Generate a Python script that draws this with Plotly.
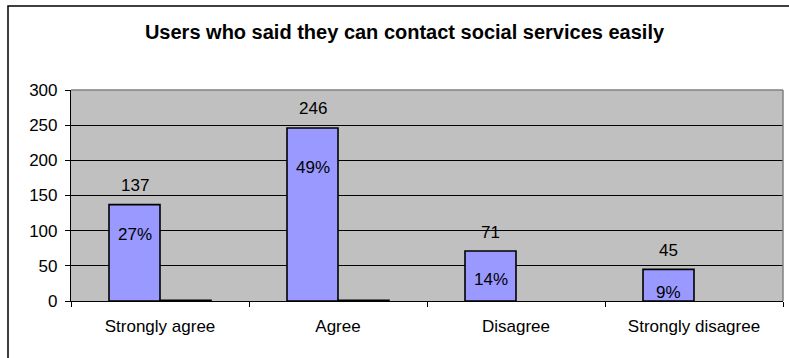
import plotly.graph_objects as go

# Survey responses
categories = ["Strongly agree", "Agree", "Disagree", "Strongly disagree"]
counts = [137, 246, 71, 45]
percent_labels = ["27%", "49%", "14%", "9%"]
other_counts = [1, 1, None, None]

y_ticks = [0, 50, 100, 150, 200, 250, 300]

FONT = "Liberation Sans, Arial, sans-serif"
BAR_FILL = "#9999FF"
PLOT_BG = "#C0C0C0"
LABEL_SIZE = 17

# vertical offsets (px) of the percentage labels below each bar top
pct_shift = [-30, -40, -28, -23]

fig = go.Figure()
fig.add_trace(go.Bar(
    x=categories, y=counts, marker=dict(color=BAR_FILL, line=dict(color="black", width=1.6)),
    hoverinfo="x+y", showlegend=False,
))
fig.add_trace(go.Bar(
    x=categories, y=other_counts, marker=dict(color=BAR_FILL, line=dict(color="black", width=1.6)),
    hoverinfo="skip", showlegend=False,
))

annotations = []
for i, (cat, val, pct) in enumerate(zip(categories, counts, percent_labels)):
    annotations.append(dict(x=cat, y=val, text=str(val), showarrow=False, xshift=-25.5,
                            yshift=19, yanchor="middle",
                            font=dict(family=FONT, size=LABEL_SIZE, color="black")))
    annotations.append(dict(x=cat, y=val, text=pct, showarrow=False, xshift=-25.5,
                            yshift=pct_shift[i], yanchor="middle",
                            font=dict(family=FONT, size=LABEL_SIZE, color="black")))

plot_l, plot_r, plot_t, plot_b = 71, 783, 90, 301
W, H = 789, 358
pw, ph = plot_r - plot_l, plot_b - plot_t

shapes = [
    # chart area frame
    dict(type="rect", xref="paper", yref="paper",
         x0=(8 - plot_l) / pw, x1=(W + 20 - plot_l) / pw,
         y0=(plot_b - (H + 20)) / ph, y1=(plot_b - 6) / ph,
         line=dict(color="black", width=1.5), fillcolor="rgba(0,0,0,0)", layer="below"),
    # plot area frame, top and right
    dict(type="line", xref="paper", yref="paper", x0=0, x1=1, y0=1, y1=1,
         line=dict(color="#808080", width=1.5)),
    dict(type="line", xref="paper", yref="paper", x0=1, x1=1, y0=0, y1=1,
         line=dict(color="#808080", width=1.5)),
]

fig.update_layout(
    width=W, height=H,
    margin=dict(l=plot_l, r=W - plot_r, t=plot_t, b=H - plot_b),
    paper_bgcolor="white", plot_bgcolor=PLOT_BG,
    barmode="group", bargap=0.427, bargroupgap=0,
    title=dict(text="<b>Users who said they can contact social services easily</b>",
               x=404.5 / W, xanchor="center", y=1 - 32 / H, yanchor="middle",
               font=dict(family=FONT, size=20, color="black")),
    font=dict(family=FONT, size=LABEL_SIZE, color="black"),
    annotations=annotations,
    shapes=shapes,
)
fig.update_xaxes(
    showline=True, linecolor="black", linewidth=1.2,
    ticks="outside", tickson="boundaries", ticklen=5, tickcolor="black",
    showgrid=False, ticklabelstandoff=9,
    tickfont=dict(family=FONT, size=LABEL_SIZE, color="black"),
)
fig.update_yaxes(
    range=[0, 300], tickvals=y_ticks,
    showline=True, linecolor="black", linewidth=1.2,
    ticks="outside", ticklen=5, tickcolor="black",
    showgrid=True, gridcolor="black", gridwidth=1, zeroline=False,
    ticklabelstandoff=4,
    tickfont=dict(family=FONT, size=LABEL_SIZE, color="black"),
)

fig.write_html("out.html")
